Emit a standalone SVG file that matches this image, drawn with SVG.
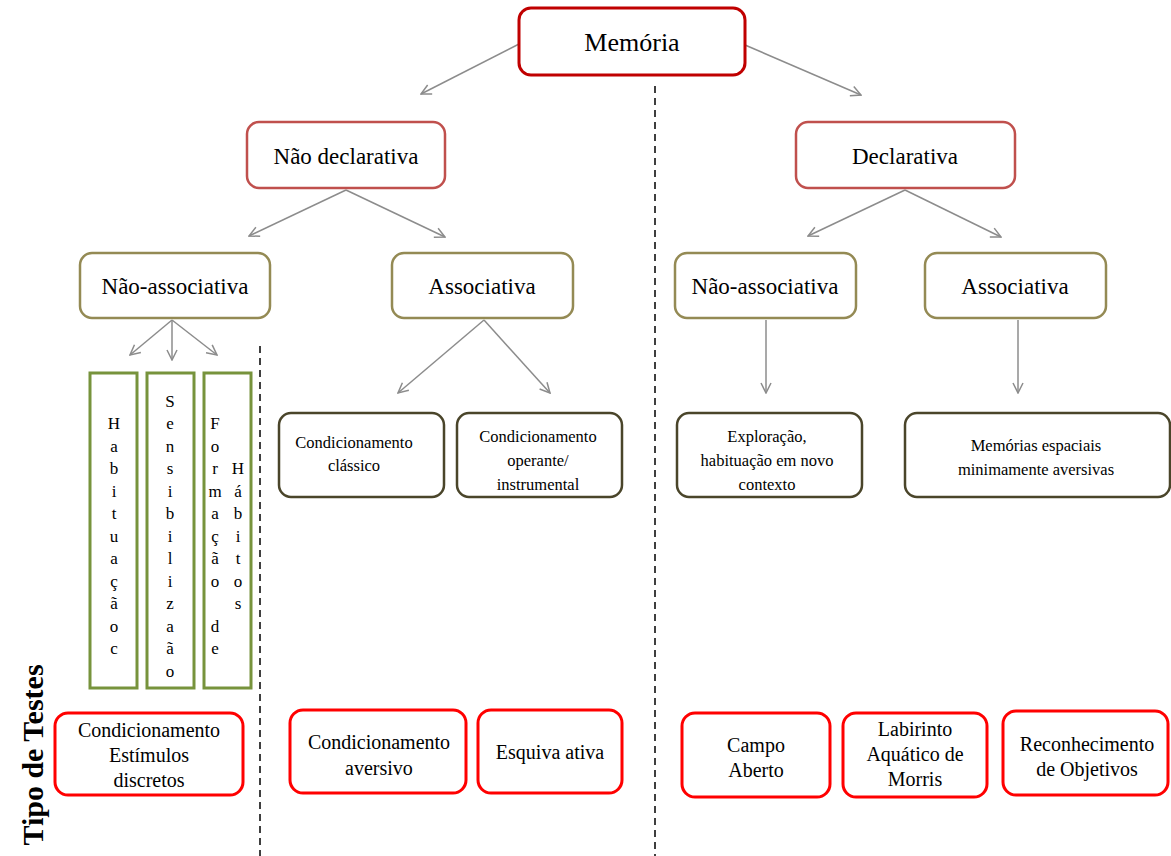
<svg xmlns="http://www.w3.org/2000/svg" width="1171" height="856" viewBox="0 0 1171 856" font-family="'Liberation Serif', 'Times New Roman', serif">
<style>
text{font-family:'Liberation Serif','Times New Roman',serif;fill:#000;text-anchor:middle}
.l1{fill:#fff;stroke:#C00000;stroke-width:3}
.l2{fill:#fff;stroke:#C0504D;stroke-width:2.5}
.l3{fill:#fff;stroke:#948A54;stroke-width:2.5}
.l4{fill:#fff;stroke:#4A452A;stroke-width:2.5}
.g{fill:#fff;stroke:#77933C;stroke-width:3}
.r{fill:#fff;stroke:#FF0000;stroke-width:3}
.t1{font-size:26px}
.t2{font-size:23px}
.t4{font-size:16.5px}
.tv{font-size:17px}
.tb{font-size:20px}
.arr{stroke:#8C8C8C;stroke-width:1.5;fill:none;marker-end:url(#ah)}
.dash{stroke:#000;stroke-width:1.5;stroke-dasharray:7 5;fill:none}
</style>
<defs>
<marker id="ah" viewBox="0 0 12 12" refX="11" refY="6" markerWidth="12" markerHeight="12" markerUnits="userSpaceOnUse" orient="auto">
<path d="M1,1 L11,6 L1,11" fill="none" stroke="#8C8C8C" stroke-width="1.5"/>
</marker>
</defs>
<rect width="1171" height="856" fill="#fff"/>

<g id="connectors">
<line class="dash" x1="655" y1="86" x2="655" y2="856"/>
<line class="dash" x1="260" y1="346" x2="260" y2="856"/>
<line class="arr" x1="521" y1="43" x2="421" y2="94"/>
<line class="arr" x1="745" y1="45" x2="861" y2="95"/>
<line class="arr" x1="346" y1="190" x2="249" y2="236"/>
<line class="arr" x1="346" y1="190" x2="445" y2="237"/>
<line class="arr" x1="905" y1="190" x2="808" y2="236"/>
<line class="arr" x1="905" y1="190" x2="1001" y2="237"/>
<line class="arr" x1="172" y1="320" x2="130" y2="355"/>
<line class="arr" x1="172" y1="320" x2="172" y2="360"/>
<line class="arr" x1="172" y1="320" x2="217" y2="355"/>
<line class="arr" x1="484" y1="320" x2="398" y2="393"/>
<line class="arr" x1="484" y1="320" x2="550" y2="393"/>
<line class="arr" x1="766" y1="320" x2="766" y2="393"/>
<line class="arr" x1="1018" y1="320" x2="1018" y2="393"/>
</g>

<g id="memoria"><rect class="l1" x="519" y="8" width="226" height="67" rx="12"/><text class="t1" x="632" y="51">Memória</text></g>
<g id="nao-declarativa"><rect class="l2" x="247" y="122" width="198" height="66" rx="12"/><text class="t2" x="346" y="164">Não declarativa</text></g>
<g id="declarativa"><rect class="l2" x="796" y="122" width="219" height="66" rx="12"/><text class="t2" x="905" y="164">Declarativa</text></g>

<g id="nao-associativa-1"><rect class="l3" x="80" y="253" width="190" height="65" rx="12"/><text class="t2" x="175" y="294">Não-associativa</text></g>
<g id="associativa-1"><rect class="l3" x="392" y="253" width="181" height="65" rx="12"/><text class="t2" x="482" y="294">Associativa</text></g>
<g id="nao-associativa-2"><rect class="l3" x="675" y="253" width="181" height="65" rx="12"/><text class="t2" x="765" y="294">Não-associativa</text></g>
<g id="associativa-2"><rect class="l3" x="925" y="253" width="181" height="65" rx="12"/><text class="t2" x="1015" y="294">Associativa</text></g>

<g id="habituacao"><rect class="g" x="90" y="373" width="47" height="315"/>
<text class="tv" x="114"><tspan x="114" y="429">H</tspan><tspan x="114" y="451.5">a</tspan><tspan x="114" y="474">b</tspan><tspan x="114" y="496.5">i</tspan><tspan x="114" y="519">t</tspan><tspan x="114" y="541.5">u</tspan><tspan x="114" y="564">a</tspan><tspan x="114" y="586.5">ç</tspan><tspan x="114" y="609">ã</tspan><tspan x="114" y="631.5">o</tspan><tspan x="114" y="654">c</tspan></text></g>
<g id="sensibilizacao"><rect class="g" x="147" y="373" width="47" height="315"/>
<text class="tv" x="170"><tspan x="170" y="406.5">S</tspan><tspan x="170" y="429">e</tspan><tspan x="170" y="451.5">n</tspan><tspan x="170" y="474">s</tspan><tspan x="170" y="496.5">i</tspan><tspan x="170" y="519">b</tspan><tspan x="170" y="541.5">i</tspan><tspan x="170" y="564">l</tspan><tspan x="170" y="586.5">i</tspan><tspan x="170" y="609">z</tspan><tspan x="170" y="631.5">a</tspan><tspan x="170" y="654">ã</tspan><tspan x="170" y="676.5">o</tspan></text></g>
<g id="formacao-habitos"><rect class="g" x="204" y="373" width="47" height="315"/>
<text class="tv" x="215"><tspan x="215" y="429">F</tspan><tspan x="215" y="451.5">o</tspan><tspan x="215" y="474">r</tspan><tspan x="215" y="496.5">m</tspan><tspan x="215" y="519">a</tspan><tspan x="215" y="541.5">ç</tspan><tspan x="215" y="564">ã</tspan><tspan x="215" y="586.5">o</tspan><tspan x="215" y="631.5">d</tspan><tspan x="215" y="654">e</tspan></text>
<text class="tv" x="238"><tspan x="238" y="474">H</tspan><tspan x="238" y="496.5">á</tspan><tspan x="238" y="519">b</tspan><tspan x="238" y="541.5">i</tspan><tspan x="238" y="564">t</tspan><tspan x="238" y="586.5">o</tspan><tspan x="238" y="609">s</tspan></text></g>

<g id="cond-classico"><rect class="l4" x="279" y="413" width="165" height="84" rx="12"/><text class="t4" x="354"><tspan x="354" y="448">Condicionamento</tspan><tspan x="354" y="471">clássico</tspan></text></g>
<g id="cond-operante"><rect class="l4" x="457" y="413" width="165" height="84" rx="12"/><text class="t4" x="538"><tspan x="538" y="442">Condicionamento</tspan><tspan x="538" y="466">operante/</tspan><tspan x="538" y="490">instrumental</tspan></text></g>
<g id="exploracao"><rect class="l4" x="677" y="413" width="185" height="84" rx="12"/><text class="t4" x="767"><tspan x="767" y="442">Exploração,</tspan><tspan x="767" y="466">habituação em novo</tspan><tspan x="767" y="490">contexto</tspan></text></g>
<g id="memorias-espaciais"><rect class="l4" x="905" y="413" width="265" height="84" rx="12"/><text class="t4" x="1036"><tspan x="1036" y="451">Memórias espaciais</tspan><tspan x="1036" y="475">minimamente aversivas</tspan></text></g>

<g id="tipo-de-testes"><text x="0" y="0" transform="translate(43,755) rotate(-90)" style="font-size:30px;font-weight:bold">Tipo de Testes</text></g>

<g id="cond-estimulos"><rect class="r" x="55" y="713" width="188" height="82" rx="13"/><text class="tb" x="149"><tspan x="149" y="737">Condicionamento</tspan><tspan x="149" y="762">Estímulos</tspan><tspan x="149" y="787">discretos</tspan></text></g>
<g id="cond-aversivo"><rect class="r" x="290" y="710" width="176" height="83" rx="13"/><text class="tb" x="379"><tspan x="379" y="749">Condicionamento</tspan><tspan x="379" y="775">aversivo</tspan></text></g>
<g id="esquiva-ativa"><rect class="r" x="478" y="710" width="144" height="83" rx="13"/><text class="tb" x="550" y="759">Esquiva ativa</text></g>
<g id="campo-aberto"><rect class="r" x="682" y="713" width="148" height="84" rx="13"/><text class="tb" x="756"><tspan x="756" y="752">Campo</tspan><tspan x="756" y="777">Aberto</tspan></text></g>
<g id="labirinto"><rect class="r" x="843" y="713" width="144" height="84" rx="13"/><text class="tb" x="915"><tspan x="915" y="736">Labirinto</tspan><tspan x="915" y="761">Aquático de</tspan><tspan x="915" y="786">Morris</tspan></text></g>
<g id="reconhecimento"><rect class="r" x="1003" y="711" width="165" height="84" rx="13"/><text class="tb" x="1087"><tspan x="1087" y="751">Reconhecimento</tspan><tspan x="1087" y="776">de Objetivos</tspan></text></g>
</svg>
